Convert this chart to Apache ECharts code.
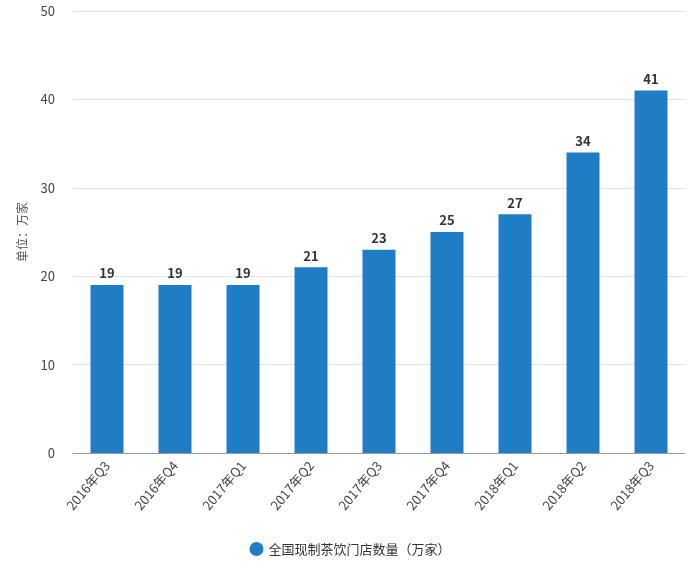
<!DOCTYPE html>
<html>
<head>
<meta charset="UTF-8">
<script src="https://cdn.jsdelivr.net/npm/echarts@6/dist/echarts.min.js"></script>
<style>html,body{margin:0;padding:0;background:#fff;}</style>
</head>
<body>
<div id="main" style="width:700px;height:569px;"></div>
<script type="text/javascript">
    var categories = ['2016年Q3', '2016年Q4', '2017年Q1', '2017年Q2', '2017年Q3', '2017年Q4', '2018年Q1', '2018年Q2', '2018年Q3'];
    var storeCount = [19, 19, 19, 21, 23, 25, 27, 34, 41];
    var seriesName = '全国现制茶饮门店数量（万家）';

    var myChart = echarts.init(document.getElementById('main'));
    var option = {
        animation: false,
        textStyle: { fontFamily: 'Noto Sans CJK SC' },
        grid: { left: 73, right: 15, top: 11, bottom: 116 },
        legend: {
            data: [seriesName],
            bottom: 8,
            left: 'center',
            icon: 'circle',
            itemWidth: 14,
            itemHeight: 14,
            textStyle: { fontSize: 13, color: '#333' }
        },
        xAxis: {
            type: 'category',
            data: categories,
            axisLine: { lineStyle: { color: '#999' } },
            axisTick: { show: false },
            axisLabel: { rotate: 50, color: '#444', fontSize: 13, interval: 0, margin: 10 }
        },
        yAxis: {
            type: 'value',
            min: 0,
            max: 50,
            interval: 10,
            name: '单位：万家',
            nameLocation: 'middle',
            nameGap: 45,
            nameTextStyle: { color: '#555', fontSize: 12 },
            axisLine: { show: false },
            axisTick: { show: false },
            axisLabel: { color: '#444', fontSize: 13, margin: 18 },
            splitLine: { lineStyle: { color: '#e3e3e3' } }
        },
        series: [{
            name: seriesName,
            type: 'bar',
            data: storeCount,
            barWidth: 33,
            itemStyle: { color: '#1f7dc6' },
            label: { show: true, position: 'top', color: '#333', fontWeight: 'bold', fontSize: 13 }
        }]
    };
    myChart.setOption(option);
</script>
</body>
</html>
